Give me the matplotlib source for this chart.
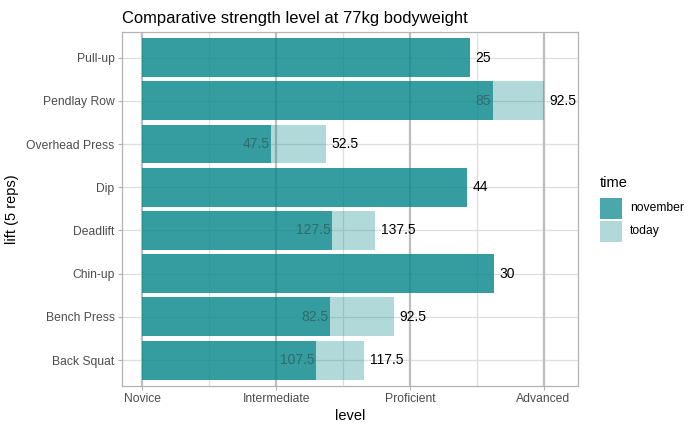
import matplotlib.pyplot as plt
from matplotlib.patches import Rectangle
import numpy as np

plt.rcParams['font.family'] = ['Liberation Sans', 'DejaVu Sans']

# lifts from bottom to top
lifts = ["Back Squat", "Bench Press", "Chin-up", "Deadlift", "Dip",
         "Overhead Press", "Pendlay Row", "Pull-up"]
# level position (0 = Novice ... 3 = Advanced)
nov_level = [1.30, 1.40, 2.63, 1.42, 2.43, 0.96, 2.62, 2.45]
today_level = [1.66, 1.88, 2.63, 1.74, 2.43, 1.37, 3.00, 2.45]
# weights shown as labels (nan = not shown)
nov_weight = [107.5, 82.5, np.nan, 127.5, np.nan, 47.5, 85, np.nan]
today_weight = [117.5, 92.5, 30, 137.5, 44, 52.5, 92.5, 25]

levels = ["Novice", "Intermediate", "Proficient", "Advanced"]

teal = '#068789'

fig = plt.figure(figsize=(7, 4.32), dpi=100)
ax = fig.add_axes([0.1739, 0.1065, 0.8261 - 0.1739, 0.9266 - 0.1065])

y = np.arange(len(lifts))

# grid
for yy in y:
    ax.axhline(yy, color='#dedede', lw=0.9, zorder=0)
for xx in [0.5, 1.5, 2.5]:
    ax.axvline(xx, color='#dedede', lw=0.9, zorder=0)
for xx in range(len(levels)):
    ax.axvline(xx, color='#bdbdbd', lw=1.6, zorder=0.5)

ax.barh(y, today_level, height=0.9, color=teal, alpha=0.31, lw=0, zorder=1)
ax.barh(y, nov_level, height=0.9, color=teal, alpha=0.72, lw=0, zorder=2)

for i in range(len(lifts)):
    ax.annotate(f"{today_weight[i]:g}", (today_level[i], y[i]),
                xytext=(4, 0), textcoords='offset points',
                ha='left', va='center', fontsize=10, color='black', zorder=3)
    if not np.isnan(nov_weight[i]):
        ax.annotate(f"{nov_weight[i]:g}", (nov_level[i], y[i]),
                    xytext=(-1, 0), textcoords='offset points',
                    ha='right', va='center', fontsize=10, color='#2f6b6c', zorder=3)

ax.set_xlim(-0.155, 3.26)
ax.set_ylim(-0.6, 7.6)
ax.set_xticks(range(len(levels)))
ax.set_xticklabels(levels)
ax.set_yticks(y)
ax.set_yticklabels(lifts)
ax.tick_params(axis='both', length=3.2, width=0.8, color='#b3b3b3',
               labelsize=8.7, labelcolor='#4d4d4d', pad=2)
for s in ax.spines.values():
    s.set_color('#b3b3b3')
    s.set_linewidth(0.9)

ax.set_xlabel('level', fontsize=10.5, labelpad=3)
ax.set_ylabel('lift (5 reps)', fontsize=10.5, labelpad=5)
ax.set_title('Comparative strength level at 77kg bodyweight', fontsize=11.9,
             loc='left', pad=6)

# legend
W, H = 700, 432
fig.text(600 / W, 1 - 183 / H, 'time', fontsize=10.5, va='center', ha='left')
for k, (lab, a) in enumerate([('november', 0.72), ('today', 0.31)]):
    top = 198 + k * 22.5
    fig.add_artist(Rectangle((600 / W, 1 - (top + 21) / H), 22 / W, 21 / H,
                             transform=fig.transFigure, color=teal, alpha=a, lw=0))
    fig.text(630 / W, 1 - (top + 10.5) / H, lab, fontsize=8.7, va='center', ha='left')

fig.savefig('out.png', dpi=100)
